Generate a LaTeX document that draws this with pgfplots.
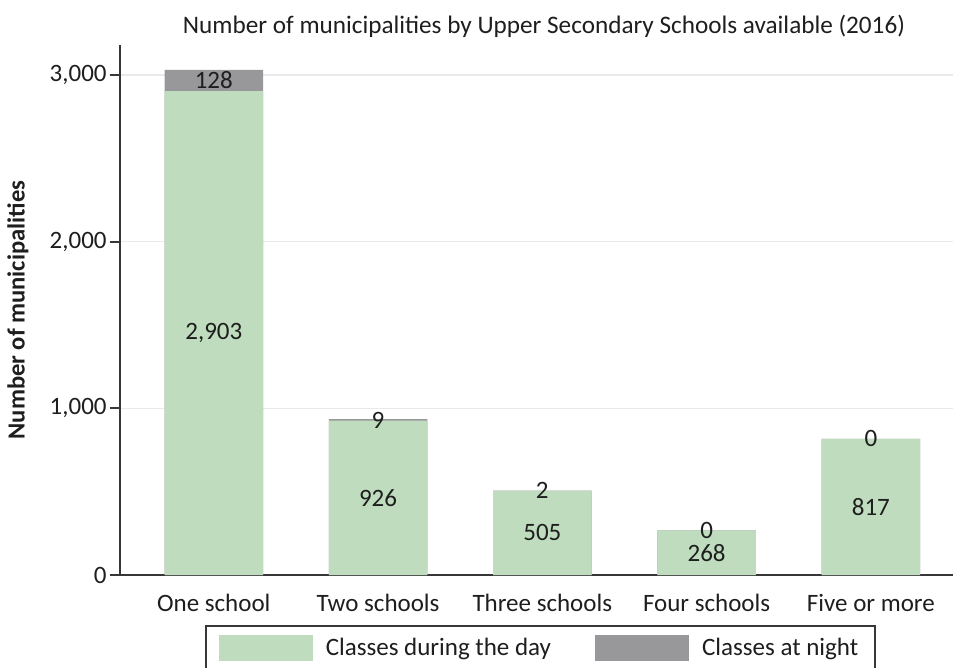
\documentclass[border=0pt]{standalone}
\usepackage{pgfplots}
\pgfplotsset{compat=1.18}
\usepackage{pgfplotstable}
\usepackage{fontspec}
\setmainfont{Carlito}
\usetikzlibrary{calc}
\definecolor{dayc}{RGB}{191,221,190}
\definecolor{nightc}{RGB}{152,152,154}
\definecolor{axc}{RGB}{55,55,55}
\definecolor{gridc}{RGB}{234,234,234}
\definecolor{txtc}{RGB}{30,30,30}

\pgfplotstableread{
x day night
0 2903 128
1 926 9
2 505 2
3 268 0
4 817 0
}\data

\begin{document}
\begin{tikzpicture}
\begin{axis}[
 name=ax,
 scale only axis,
 width=416.5pt, height=265pt,
 xmin=-0.571, xmax=4.5,
 ymin=0, ymax=3180,
 axis x line=bottom, axis y line=left,
 axis line style={-, draw=axc, line width=0.9pt},
 xtick={0,1,2,3,4},
 xticklabels={One school, Two schools, Three schools, Four schools, Five or more},
 xtick style={draw=none},
 ytick={0,1000,2000,3000},
 ytick style={draw=axc, line width=0.9pt},
 tick align=outside,
 major tick length=5pt,
 ymajorgrids, grid style={gridc, line width=0.6pt},
 /pgf/number format/1000 sep={,},
 /pgf/number format/assume math mode=true,
 tick label style={font=\fontsize{12.5}{14}\selectfont, text=txtc},
 yticklabel style={inner xsep=1.5pt},
 xticklabel style={anchor=base, yshift=-13pt},
 title={Number of municipalities by Upper Secondary Schools available (2016)},
 every axis title shift=0pt,
 title style={at={(axis description cs:0.509,1)}, anchor=base, yshift=6pt, font=\fontsize{12.6}{14}\selectfont, text=txtc},
 ylabel={Number of municipalities},
 ylabel style={at={(axis description cs:-0.1225,0.5)}, anchor=center, font=\bfseries\fontsize{12.3}{14}\selectfont, text=txtc},
 legend columns=2,
 legend image code/.code={\fill[#1, draw=none] (0pt,-6.5pt) rectangle (47pt,6.5pt);},
 legend style={
   at={(axis description cs:0.102,-0.0943)}, anchor=north west,
   draw=axc, line width=0.8pt,
   font=\fontsize{12.5}{14}\selectfont, text=txtc,
   inner xsep=6.5pt, inner ysep=4pt,
   nodes={inner sep=2pt},
   /tikz/every odd column/.append style={column sep=4.5pt},
   /tikz/every even column/.append style={column sep=20pt},
 },
]
\addplot[ybar, bar width=0.6, bar shift=0pt, fill=nightc, draw=none, forget plot]
  table[x=x, y expr=\thisrow{day}+\thisrow{night}] {\data};
\addplot[ybar, bar width=0.6, bar shift=0pt, fill=dayc, draw=none, forget plot]
  table[x=x, y=day] {\data};
\addplot[draw=none, mark=none, nodes near coords, point meta=explicit,
  every node near coord/.append style={anchor=center, font=\fontsize{12.5}{14}\selectfont, text=txtc}, forget plot]
  table[x=x, y expr=\thisrow{day}/2, meta=day] {\data};
\addplot[draw=none, mark=none, nodes near coords, point meta=explicit,
  every node near coord/.append style={anchor=center, font=\fontsize{12.5}{14}\selectfont, text=txtc}, forget plot]
  table[x=x, y expr=\thisrow{day}+\thisrow{night}/2, meta=night] {\data};
\addlegendimage{fill=dayc, draw=none}
\addlegendentry{Classes during the day}
\addlegendimage{fill=nightc, draw=none}
\addlegendentry{Classes at night}
\end{axis}
\pgfresetboundingbox
\path[use as bounding box] ($(ax.south west)+(-60pt,-46pt)$) rectangle ($(ax.north east)+(0pt,22.5pt)$);
\end{tikzpicture}
\end{document}
